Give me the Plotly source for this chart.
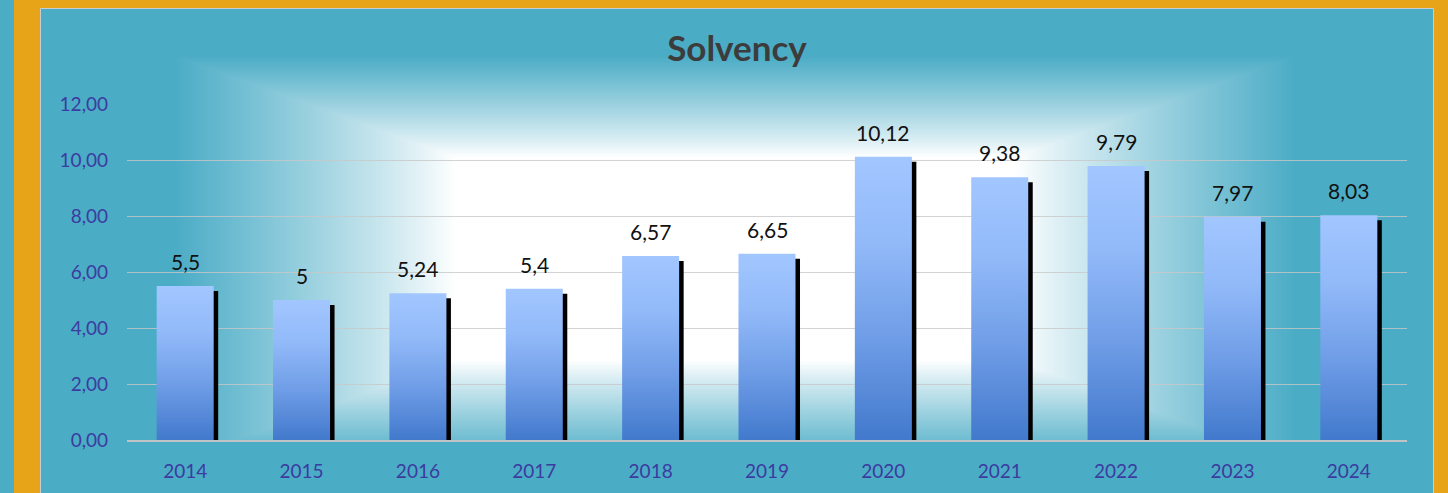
import base64, struct, zlib
import numpy as np
import plotly.graph_objects as go

# ---------------- data ----------------
years = ["2014", "2015", "2016", "2017", "2018", "2019", "2020", "2021", "2022", "2023", "2024"]
solvency = [5.5, 5.0, 5.24, 5.4, 6.57, 6.65, 10.12, 9.38, 9.79, 7.97, 8.03]
y_ticks = [0, 2, 4, 6, 8, 10, 12]

# ---------------- canvas geometry ----------------
W, H = 1448, 493
L, R, T, B = 127, 41, 104, 53
PW, PH = W - L - R, H - T - B

TEAL = (75, 172, 198)
ORANGE = "#E8A419"

def px_to_paper_x(px):
    return (px - L) / PW

def px_to_paper_y(py):
    return (H - B - py) / PH

# ---------------- glow background image (rectangular path gradient) ----------------
gx0, gx1, gy0, gy1 = 175, 1295, 56, 462   # full glow rectangle
clip_bottom = 440
gw, gh = gx1 - gx0, clip_bottom - gy0
cx, cy = (gx0 + gx1) / 2, (gy0 + gy1) / 2
hw, hh = (gx1 - gx0) / 2, (gy1 - gy0) / 2
xs = np.arange(gw) + gx0 + 0.5
ys = np.arange(gh) + gy0 + 0.5
XX, YY = np.meshgrid(xs, ys)
t = np.maximum(np.abs(XX - cx) / hw, np.abs(YY - cy) / hh)
t0 = 0.5
f = np.clip((t - t0) / (1 - t0), 0, 1) ** 0.9
img = np.empty((gh, gw, 3), dtype=np.float64)
for k in range(3):
    img[..., k] = 255 * (1 - f) + TEAL[k] * f
img = np.clip(img + 0.5, 0, 255).astype(np.uint8)

def png_bytes(arr):
    h, w, _ = arr.shape
    raw = b"".join(b"\x00" + arr[r].tobytes() for r in range(h))
    def chunk(tag, data):
        c = struct.pack(">I", len(data)) + tag + data
        return c + struct.pack(">I", zlib.crc32(tag + data) & 0xFFFFFFFF)
    return (b"\x89PNG\r\n\x1a\n"
            + chunk(b"IHDR", struct.pack(">IIBBBBB", w, h, 8, 2, 0, 0, 0))
            + chunk(b"IDAT", zlib.compress(raw, 9))
            + chunk(b"IEND", b""))

glow_uri = "data:image/png;base64," + base64.b64encode(png_bytes(img)).decode()

# ---------------- figure ----------------
fig = go.Figure()
idx = list(range(len(years)))
bar_w = 0.49
cat_px = PW / len(years)
shadow_dx = 4.5 / cat_px
shadow_dy = 5 / (PH / 12)

# shadow bars
fig.add_trace(go.Bar(
    x=[i + shadow_dx for i in idx],
    y=[v - shadow_dy for v in solvency],
    width=bar_w, marker=dict(color="#000000", line=dict(width=0)),
    hoverinfo="skip", showlegend=False,
))

# gradient bars
for i, v in zip(idx, solvency):
    fig.add_trace(go.Scatter(
        x=[i - bar_w / 2, i + bar_w / 2, i + bar_w / 2, i - bar_w / 2, i - bar_w / 2],
        y=[0, 0, v, v, 0],
        mode="lines", fill="toself",
        line=dict(width=0, color="rgba(0,0,0,0)"),
        fillgradient=dict(type="vertical",
                          colorscale=[[0, "#4279CC"], [0.35, "#6E9CE6"],
                                      [0.7, "#92BAF9"], [1, "#A2C6FF"]]),
        hoverinfo="skip", showlegend=False,
    ))

def fmt(v):
    s = f"{v:.2f}".rstrip("0").rstrip(".")
    return s.replace(".", ",")

for i, v in zip(idx, solvency):
    fig.add_annotation(x=i, y=v, text=fmt(v), showarrow=False,
                       yanchor="bottom", yshift=10,
                       font=dict(family="Lato", size=21, color="#111111"))

shapes = [
    # orange frame
    dict(type="rect", xref="paper", yref="paper",
         x0=px_to_paper_x(14), x1=px_to_paper_x(40), y0=px_to_paper_y(H), y1=px_to_paper_y(0),
         fillcolor=ORANGE, line=dict(width=0), layer="below"),
    dict(type="rect", xref="paper", yref="paper",
         x0=px_to_paper_x(14), x1=px_to_paper_x(W), y0=px_to_paper_y(8), y1=px_to_paper_y(0),
         fillcolor=ORANGE, line=dict(width=0), layer="below"),
    dict(type="rect", xref="paper", yref="paper",
         x0=px_to_paper_x(1434), x1=px_to_paper_x(W), y0=px_to_paper_y(H), y1=px_to_paper_y(0),
         fillcolor=ORANGE, line=dict(width=0), layer="below"),
    # thin light border of the panel
    dict(type="line", xref="paper", yref="paper",
         x0=px_to_paper_x(40.5), x1=px_to_paper_x(40.5), y0=px_to_paper_y(H), y1=px_to_paper_y(8.5),
         line=dict(color="#C9CDD0", width=1), layer="below"),
    dict(type="line", xref="paper", yref="paper",
         x0=px_to_paper_x(40.5), x1=px_to_paper_x(1433.5), y0=px_to_paper_y(8.5), y1=px_to_paper_y(8.5),
         line=dict(color="#C9CDD0", width=1), layer="below"),
    dict(type="line", xref="paper", yref="paper",
         x0=px_to_paper_x(1433.5), x1=px_to_paper_x(1433.5), y0=px_to_paper_y(H), y1=px_to_paper_y(8.5),
         line=dict(color="#C9CDD0", width=1), layer="below"),
]

fig.update_layout(
    width=W, height=H, autosize=False,
    margin=dict(l=L, r=R, t=T, b=B, pad=0, autoexpand=False),
    paper_bgcolor="rgb(75,172,198)",
    plot_bgcolor="rgba(0,0,0,0)",
    separators=", ",
    showlegend=False,
    hovermode=False,
    barmode="overlay",
    title=dict(text="<b>Solvency</b>", x=737 / W, xanchor="center",
               y=1 - 49 / H, yanchor="middle", xref="container", yref="container",
               font=dict(family="Lato", size=35, color="#3C3C3C")),
    shapes=shapes,
    images=[dict(source=glow_uri, xref="paper", yref="paper",
                 x=px_to_paper_x(gx0), y=px_to_paper_y(gy0),
                 sizex=gw / PW, sizey=gh / PH,
                 xanchor="left", yanchor="top", sizing="stretch", layer="below")],
    xaxis=dict(range=[-0.5, len(years) - 0.5], tickmode="array", tickvals=idx, ticktext=years,
               showgrid=False, zeroline=False, showline=True, linecolor="#BFC3C6", linewidth=2,
               ticks="", ticklabelstandoff=13, automargin=False,
               tickfont=dict(family="Lato", size=19, color="#3B3BA0"), fixedrange=True),
    yaxis=dict(range=[0, 12], tickmode="array", tickvals=y_ticks, tickformat=".2f",
               showgrid=True, gridcolor="rgba(200,200,200,0.8)", gridwidth=1.3,
               zeroline=False, showline=False, ticks="", ticklabelstandoff=18, automargin=False,
               tickfont=dict(family="Lato", size=19, color="#3B3BA0"), fixedrange=True),
)

fig.write_html("out.html", config={"displayModeBar": False},
               post_script="document.documentElement.style.margin='0';document.body.style.margin='0';"
                           "document.body.style.overflow='hidden';")
